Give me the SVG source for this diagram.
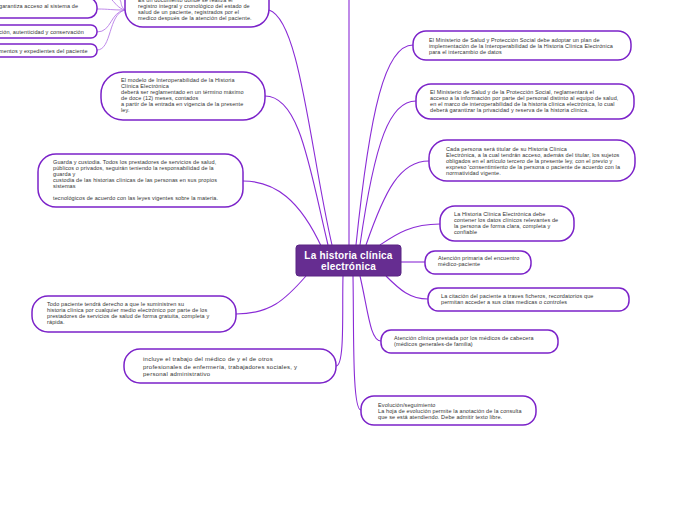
<svg xmlns="http://www.w3.org/2000/svg" width="696" height="520" viewBox="0 0 696 520">
<style>
.n{fill:#fff;stroke:#7b22c9;stroke-width:1.5}
.t{font-family:"Liberation Sans",Arial,sans-serif;font-size:5.5px;fill:#333;letter-spacing:0.12px}
.t6{font-family:"Liberation Sans",Arial,sans-serif;font-size:6px;fill:#333;letter-spacing:0.25px}
.c{fill:none;stroke:#8a2bd6;stroke-width:1.1}
.c2{fill:none;stroke:#b77ce6;stroke-width:0.9}
</style>
<rect width="696" height="520" fill="#fff"/>
<g id="connectors">
<path class="c" d="M349,245 L349,0"/>
<path class="c" d="M332,245 C310,150 300,20 269,10"/>
<path class="c" d="M328,245 C310,170 300,96 265,96"/>
<path class="c" d="M322,248 C300,200 275,181 243,181"/>
<path class="c" d="M306,276 C285,300 270,314 236,314"/>
<path class="c" d="M343,276 C342,310 345,366 336,366"/>
<path class="c" d="M356,245 C370,110 385,45 413,45"/>
<path class="c" d="M360,245 C375,140 390,101 416,101"/>
<path class="c" d="M366,245 C385,190 400,161 429,161"/>
<path class="c" d="M380,245 C395,235 410,224 440,224"/>
<path class="c" d="M401,262 L425,262"/>
<path class="c" d="M386,276 C400,290 410,299 428,299"/>
<path class="c" d="M360,276 C368,310 370,341 381,341"/>
<path class="c" d="M353,276 C354,330 352,410 361,410"/>
<path class="c2" d="M125,10 C110,10 110,9 97,9"/>
<path class="c2" d="M125,10 C110,12 112,32 97,32"/>
<path class="c2" d="M125,10 C108,14 112,50 97,50"/>
<path class="c2" d="M125,10 C118,8 116,4 112,0"/>
<path class="c2" d="M125,10 C120,6 122,3 120,0"/>
</g>
<g id="n-a"><rect class="n" x="-30" y="-2" width="127" height="20" rx="9"/><text class="t" x="-1" y="8">garantiza acceso al sistema de</text></g>
<g id="n-b"><rect class="n" x="-30" y="25" width="127" height="13" rx="6"/><text class="t" x="-1" y="33.5">ción, autenticidad y conservación</text></g>
<g id="n-c"><rect class="n" x="-30" y="44" width="127" height="13" rx="6"/><text class="t" x="-1" y="52.5">mentos y expedientes  del paciente</text></g>
<g id="n-d"><rect class="n" x="125" y="-20" width="144" height="47" rx="18"/>
<text class="t"><tspan x="138" y="2">Es  un documento donde  se realiza el</tspan><tspan x="138" y="8">registro integral y cronológico del estado de</tspan><tspan x="138" y="14">salud de un paciente, registrados por el</tspan><tspan x="138" y="20">medico  después de la atención del paciente.</tspan></text></g>
<g id="n-e"><rect class="n" x="101" y="72" width="164" height="48" rx="22"/>
<text class="t"><tspan x="121" y="82">El modelo de Interoperabilidad de la Historia</tspan><tspan x="121" y="88">Clínica  Electrónica</tspan><tspan x="121" y="94">deberá ser reglamentado en un término máximo</tspan><tspan x="121" y="100">de doce (12) meses, contados</tspan><tspan x="121" y="106">a partir de la entrada en vigencia de la presente</tspan><tspan x="121" y="112">ley.</tspan></text></g>
<g id="n-f"><rect class="n" x="38" y="154" width="205" height="53" rx="18"/>
<text class="t"><tspan x="53" y="164">Guarda y custodia. Todos los prestadores de servicios de salud,</tspan><tspan x="53" y="170">públicos o privados, seguirán teniendo la responsabilidad de la</tspan><tspan x="53" y="176">guarda y</tspan><tspan x="53" y="182">custodia de las historias clínicas de las personas en sus propios</tspan><tspan x="53" y="188">sistemas</tspan><tspan x="53" y="200">tecnológicos de acuerdo con las leyes vigentes sobre la materia.</tspan></text></g>
<g id="n-g"><rect class="n" x="32" y="296" width="204" height="36" rx="16"/>
<text class="t"><tspan x="47" y="306">Todo paciente tendrá derecho a que le suministren su</tspan><tspan x="47" y="312">historia clínica por cualquier medio electrónico por parte de los</tspan><tspan x="47" y="318">prestadores de servicios de salud de forma gratuita, completa y</tspan><tspan x="47" y="324">rápida.</tspan></text></g>
<g id="n-h"><rect class="n" x="124" y="349" width="212" height="34" rx="16"/>
<text class="t6"><tspan x="143" y="361">incluye el trabajo del médico de y el de otros</tspan><tspan x="143" y="369">profesionales de enfermería, trabajadores sociales, y</tspan><tspan x="143" y="376">personal administrativo</tspan></text></g>
<g id="n-i"><rect class="n" x="413" y="31" width="218" height="29" rx="13"/>
<text class="t"><tspan x="429" y="42">El Ministerio de Salud y Protección Social debe adoptar un plan de</tspan><tspan x="429" y="48">implementación de la Interoperabilidad de la Historia Clínica Electrónica</tspan><tspan x="429" y="54">para el intercambio de datos</tspan></text></g>
<g id="n-j"><rect class="n" x="416" y="84" width="218" height="35" rx="15"/>
<text class="t"><tspan x="430" y="94">El Ministerio de Salud y de la Protección Social, reglamentará el</tspan><tspan x="430" y="100">acceso a la información por parte del personal distinto al equipo de salud,</tspan><tspan x="430" y="106">en el marco de interoperabilidad de la historia clínica electrónica, lo cual</tspan><tspan x="430" y="112">deberá garantizar la privacidad y reserva de la historia clínica.</tspan></text></g>
<g id="n-k"><rect class="n" x="429" y="140" width="206" height="41" rx="18"/>
<text class="t"><tspan x="446" y="151">Cada persona será titular de su Historia Clínica</tspan><tspan x="446" y="157">Electrónica, a la cual tendrán acceso, además del titular, los sujetos</tspan><tspan x="446" y="163">obligados en el artículo tercero de la presente ley, con el previo y</tspan><tspan x="446" y="169">expreso 'consentimiento de la persona o paciente de acuerdo con la</tspan><tspan x="446" y="175">normatividad vigente.</tspan></text></g>
<g id="n-l"><rect class="n" x="440" y="206" width="134" height="35" rx="15"/>
<text class="t"><tspan x="454" y="216">La Historia Clínica Electrónica debe</tspan><tspan x="454" y="222">contener los datos clínicos relevantes de</tspan><tspan x="454" y="228">la persona de forma clara, completa y</tspan><tspan x="454" y="234">confiable</tspan></text></g>
<g id="n-m"><rect class="n" x="425" y="251" width="106" height="23" rx="10"/>
<text class="t"><tspan x="438" y="260">Atención primaria del encuentro</tspan><tspan x="438" y="266">médico-paciente</tspan></text></g>
<g id="n-n"><rect class="n" x="428" y="288" width="201" height="23" rx="10"/>
<text class="t"><tspan x="441" y="298">La citación del paciente a traves  ficheros, recordatorios que</tspan><tspan x="441" y="304">permitan  acceder  a sus citas medicas o controles</tspan></text></g>
<g id="n-o"><rect class="n" x="381" y="330" width="177" height="23" rx="10"/>
<text class="t"><tspan x="394" y="340">Atención clínica prestada por los médicos de cabecera</tspan><tspan x="394" y="346">(médicos generales-de familia)</tspan></text></g>
<g id="n-p"><rect class="n" x="361" y="396" width="175" height="29" rx="13"/>
<text class="t"><tspan x="378" y="407">Evolución/seguimiento</tspan><tspan x="378" y="413">La hoja de evolución permite la anotación de la consulta</tspan><tspan x="378" y="419">que se está atendiendo. Debe admitir texto libre.</tspan></text></g>
<g id="center"><rect x="296" y="245" width="105" height="31" rx="3" fill="#662d91" stroke="#5a2584" stroke-width="1"/>
<text font-family="Liberation Sans,Arial,sans-serif" font-size="10px" font-weight="bold" fill="#fff" text-anchor="middle" letter-spacing="0.2"><tspan x="348.5" y="258.5">La historia clínica</tspan><tspan x="348.5" y="270">electrónica</tspan></text></g>
</svg>
